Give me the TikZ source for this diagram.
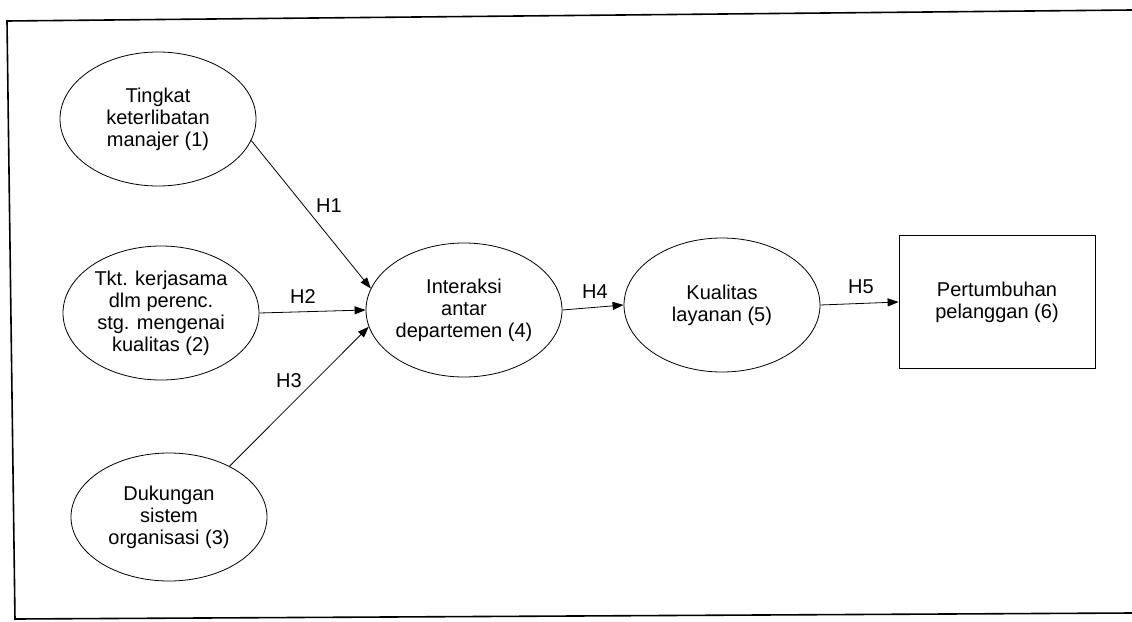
\documentclass[tikz,border=0pt]{standalone}
\usepackage{fontspec}
\setmainfont{Liberation Sans}
\usetikzlibrary{shapes.geometric,arrows.meta}
\begin{document}
\begin{tikzpicture}[x=1pt,y=-1pt,
  txt/.style={font=\fontsize{20}{22}\selectfont, align=center},
  construct/.style={txt, ellipse, draw, line width=0.8pt, inner sep=0pt,
    minimum width=196pt, minimum height=134pt},
  outcome/.style={txt, rectangle, draw, line width=0.8pt, inner sep=0pt,
    minimum width=196pt, minimum height=133pt},
  link/.style={line width=0.8pt, -{Triangle[length=11pt,width=8pt]}},
  hyp/.style={font=\fontsize{20}{22}\selectfont, inner sep=0pt},
  frameline/.style={line width=1.6pt}]
\useasboundingbox (0,0) rectangle (1132,621);

% surrounding frame (open on the right)
\draw[frameline] (1132,10) -- (7,21) -- (15,620);
\draw[frameline] (15,619) -- (1132,613);

% constructs
\node[construct] (e1) at (158,119) {Tingkat\\keterlibatan\\manajer (1)};
\node[construct] (e2) at (161,313) {Tkt. kerjasama\\dlm perenc.\\stg. mengenai\\kualitas (2)};
\node[construct, minimum height=128pt] (e3) at (169,517) {Dukungan\\sistem\\organisasi (3)};
\node[construct] (e4) at (464,310) {Interaksi\\antar\\departemen (4)};
\node[construct] (e5) at (722,305) {Kualitas\\layanan (5)};
\node[outcome] (b6) at (997,302) {Pertumbuhan\\pelanggan (6)};

% hypothesised paths
\draw[link] (e1.-13) -- (e4.167);
\draw[link] (e2.east) -- (e4.west);
\draw[link] (e3.40) -- (e4.190);
\draw[link] (e4.east) -- (e5.west);
\draw[link] (e5.east) -- (b6.west);

% path labels
\node[hyp] (h1) at (329,206) {H1};
\node[hyp] (h2) at (303,297) {H2};
\node[hyp] (h3) at (289,381) {H3};
\node[hyp] (h4) at (595,292) {H4};
\node[hyp] (h5) at (861,287) {H5};
\end{tikzpicture}
\end{document}
